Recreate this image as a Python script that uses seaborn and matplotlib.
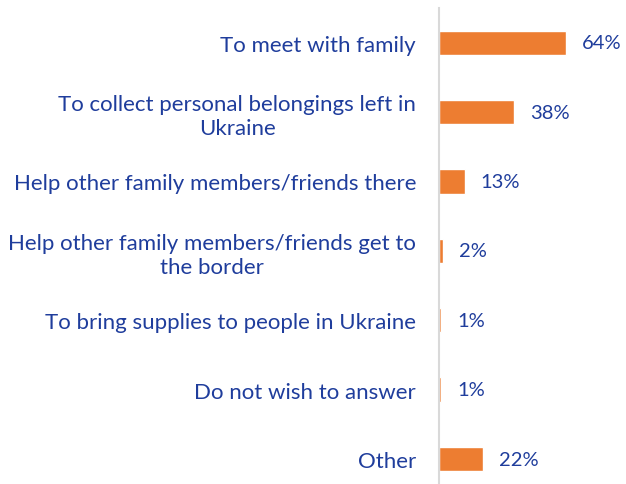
import matplotlib
matplotlib.use("Agg")
import matplotlib.pyplot as plt
import seaborn as sns
import pandas as pd

categories = [
    "To meet with family",
    "To collect personal belongings left in\nUkraine",
    "Help other family members/friends there",
    "Help other family members/friends get to\nthe border",
    "To bring supplies to people in Ukraine",
    "Do not wish to answer",
    "Other",
]
values = [64, 38, 13, 2, 1, 1, 22]

BAR = "#ED7D31"
TEXT = "#1F3D9C"
AXIS = "#D9D9D9"

sns.set_theme(style="white")
plt.rcParams["font.family"] = ["Lato", "DejaVu Sans"]

df = pd.DataFrame({"reason": categories, "share": values})

fig = plt.figure(figsize=(6.26, 4.85), dpi=100)
ax = fig.add_axes([439 / 626, 0.0, 1 - 439 / 626, 1 - 9 / 485])

sns.barplot(data=df, y="reason", x="share", orient="h", color=BAR,
            width=0.35, saturation=1, ax=ax)

ax.set_xlim(0, 94.4)
ax.set_ylim(6.36, -0.5)
ax.set_xlabel("")
ax.set_ylabel("")
ax.set_xticks([])

for side in ("top", "right", "bottom"):
    ax.spines[side].set_visible(False)
ax.spines["left"].set_color(AXIS)
ax.spines["left"].set_linewidth(1.5)

ax.tick_params(axis="y", length=0, pad=16.5)
ax.set_yticks(range(len(categories)))
ax.set_yticklabels(categories, fontsize=16, color=TEXT,
                   multialignment="center", linespacing=1.25)

ax.bar_label(ax.containers[0], labels=[f"{v}%" for v in values],
             padding=11.5, fontsize=14.5, color=TEXT)

fig.savefig("out.png", dpi=100)
